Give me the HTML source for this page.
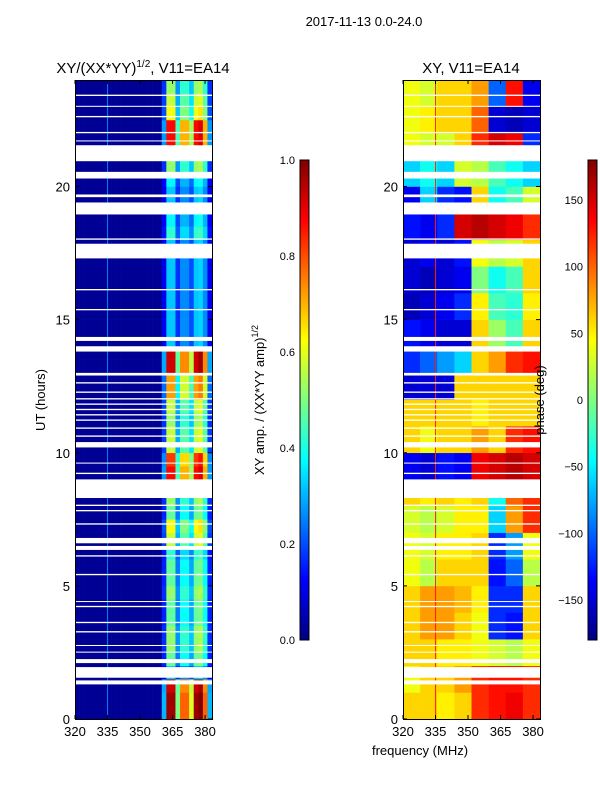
<!DOCTYPE html>
<html><head><meta charset="utf-8"><style>
body{margin:0;background:#fff;font-family:"Liberation Sans",sans-serif;}
svg text{font-family:"Liberation Sans",sans-serif;}
</style></head><body>
<svg id="fig" width="600" height="800" xmlns="http://www.w3.org/2000/svg">
<defs><linearGradient id="jetg" x1="0" y1="1" x2="0" y2="0">
<stop offset="0" stop-color="#000080"/><stop offset="0.125" stop-color="#0000ff"/><stop offset="0.375" stop-color="#00ffff"/><stop offset="0.625" stop-color="#ffff00"/><stop offset="0.875" stop-color="#ff0000"/><stop offset="1" stop-color="#800000"/></linearGradient></defs>
<rect width="600" height="800" fill="#fff"/>
<text x="364" y="26" font-size="13" text-anchor="middle">2017-11-13 0.0-24.0</text>
<text x="143" y="73" font-size="15" text-anchor="middle">XY/(XX*YY)<tspan font-size="10" dy="-6">1/2</tspan><tspan dy="6">, V11=EA14</tspan></text>
<text x="471" y="73" font-size="15" text-anchor="middle">XY, V11=EA14</text>
<g id="left"></g>
<g id="right"></g>
<g id="axes"></g>
<text transform="translate(45,400) rotate(-90)" font-size="13" text-anchor="middle">UT (hours)</text>
<text x="420" y="755" font-size="13" text-anchor="middle">frequency (MHz)</text>
<rect x="300" y="160" width="9" height="480" fill="url(#jetg)" stroke="#000" stroke-width="1"/>
<rect x="588" y="160" width="9" height="480" fill="url(#jetg)" stroke="#000" stroke-width="1"/>
<text transform="translate(264,400) rotate(-90)" font-size="13" text-anchor="middle">XY amp. / (XX*YY amp)<tspan font-size="9" dy="-6">1/2</tspan></text>
<text transform="translate(544,400) rotate(-90)" font-size="13" text-anchor="middle">phase (deg)</text>
</svg>
<script>
const NS="http://www.w3.org/2000/svg";
// ---- data ----
const ampColProfile=[0,0,0,0,0,0,0,0,0,0,0,0,0,0,0,0,0,0,0,0.3,1.0,1.0,0.5,0.8,0.8,0.6,1.0,1.05,0.8,0.3];
const ampRowLevel=[0.95,0.95,0.9,0.3,0.45,0.5,0.5,0.45,0.45,0.5,0.45,0.45,0.4,0.55,0.6,0.45,0.5,0.5,0.85,0.8,0.55,0.55,0.5,0.55,0.7,0.7,0.9,0.9,0.3,0.3,0.3,0.3,0.3,0.3,0.3,0.3,0.4,0.35,0.3,0.3,0.35,0.5,0.6,0.85,0.85,0.6,0.55,0.5];
const phaseRows=[
[60,60,50,60,120,130,140,120],[40,60,60,80,120,130,130,120],[60,60,50,50,40,30,20,40],[60,80,80,60,40,-120,-130,60],
[60,80,80,70,50,-120,-120,60],[40,20,60,60,60,-130,-100,20],[40,30,50,50,60,-120,-80,40],[30,20,30,50,50,-60,80,120],
[60,50,60,50,60,-40,100,120],[-140,-150,-130,-140,140,150,160,150],[60,40,60,60,80,60,120,130],[60,60,60,60,50,60,60,60],
[-150,-150,-150,60,60,60,60,60],[-120,-100,-80,-60,60,80,120,130],[-130,-140,-150,-150,60,10,-20,60],[-160,-150,-140,-120,50,-20,-30,50],
[-150,-160,-150,-140,0,-40,-20,60],[-150,-140,-150,-130,40,20,30,60],[-130,-140,-120,150,160,150,140,120],[-140,-60,-120,-130,60,-40,-20,30],
[-60,-40,-60,30,20,-20,-40,-60],[40,30,30,60,120,150,140,-120],[40,50,60,60,100,-150,-160,-150],[40,30,60,60,80,-100,130,-140]];
const gaps=[[1.3,1.45],[1.55,1.95],[2.1,2.25],[2.5,2.53],[2.75,2.78],[3.25,3.3],[3.6,3.65],[4.2,4.25],[4.4,4.43],[5.4,5.45],[6.1,6.15],[6.35,6.5],[6.6,6.8],[7.3,7.35],[7.8,7.85],[8.0,8.05],[8.3,9.0],[9.2,9.25],[9.6,9.63],[10.2,10.4],[10.6,10.65],[10.9,10.95],[11.2,11.25],[11.4,11.45],[11.6,11.65],[11.8,11.85],[12.0,12.05],[12.25,12.3],[12.6,12.65],[12.9,13.0],[13.8,14.0],[14.2,14.35],[15.35,15.4],[16.1,16.15],[17.3,17.85],[18.0,18.05],[18.95,19.4],[19.6,19.7],[20.3,20.55],[20.95,21.55],[21.7,21.73],[22.0,22.05],[22.6,22.65],[23.0,23.03],[23.4,23.45]];
const xTicks=[320,335,350,365,380];
const yTicks=[0,5,10,15,20];
const ampTicks=[0.0,0.2,0.4,0.6,0.8,1.0];
const phaseTicks=[-150,-100,-50,0,50,100,150];
// ---- scales ----
const F0=320,F1=383.2,TOP=80,BOT=719;
const yS=h=>BOT-(h/24)*(BOT-TOP);
const xL=f=>75+(f-F0)/(F1-F0)*137;
const xR=f=>403+(f-F0)/(F1-F0)*137;
function jet(v){v=Math.max(0,Math.min(1,v));const c=t=>Math.round(255*Math.max(0,Math.min(1,1.5-Math.abs(4*v-t))));return `rgb(${c(3)},${c(2)},${c(1)})`;}
function R(g,x,y,w,h,fill){const r=document.createElementNS(NS,'rect');r.setAttribute('x',x);r.setAttribute('y',y);r.setAttribute('width',w);r.setAttribute('height',h);r.setAttribute('fill',fill);


g.appendChild(r);return r;}
const gl=document.getElementById('left'),gr=document.getElementById('right');
const nc=ampColProfile.length,fw=(F1-F0)/nc;
ampRowLevel.forEach((lv,i)=>{const y0=yS((i+1)*0.5),y1=yS(i*0.5);
 ampColProfile.forEach((p,j)=>{const a=xL(F0+j*fw),b=xL(F0+(j+1)*fw);R(gl,a,y0,b-a+0.3,y1-y0+0.3,jet(0.02+lv*p));});});
R(gl,xL(334.8),TOP,1,BOT-TOP,jet(0.25));
const pw=(F1-F0)/8;
phaseRows.forEach((row,i)=>{const y0=yS(i+1),y1=yS(i);
 row.forEach((p,j)=>{const a=xR(F0+j*pw),b=xR(F0+(j+1)*pw);R(gr,a,y0,b-a+0.3,y1-y0+0.3,jet((p+180)/360));});});
R(gr,xR(334.8),TOP,1,BOT-TOP,'#ff2000');
[gl,gr].forEach((g,k)=>{const xf=k?xR:xL;gaps.forEach(([a,b])=>{R(g,xf(F0),yS(b),137,Math.max(1,yS(a)-yS(b)),'#fff');});});
// ---- axes ----
const ga=document.getElementById('axes');
function L(x1,y1,x2,y2,name){const l=document.createElementNS(NS,'line');l.setAttribute('x1',x1);l.setAttribute('y1',y1);l.setAttribute('x2',x2);l.setAttribute('y2',y2);l.setAttribute('stroke','#000');l.setAttribute('stroke-width','1');


ga.appendChild(l);}
function T(x,y,s,anchor,name){const t=document.createElementNS(NS,'text');t.setAttribute('x',x);t.setAttribute('y',y);t.setAttribute('font-size','13');t.setAttribute('text-anchor',anchor);t.textContent=s;


ga.appendChild(t);return t;}
[75,403].forEach((x0,k)=>{const xf=k?xR:xL;
 const fr=document.createElementNS(NS,'rect');fr.setAttribute('x',x0+0.5);fr.setAttribute('y',TOP+0.5);fr.setAttribute('width',137);fr.setAttribute('height',BOT-TOP);fr.setAttribute('fill','none');fr.setAttribute('stroke','#000');
 
 
 ga.appendChild(fr);
 xTicks.forEach(f=>{const x=xf(f);L(x,BOT,x,BOT-4,'x-tick');L(x,TOP,x,TOP+4,'x-tick');T(x,BOT+17,String(f),'middle','x-tick-label');});
 yTicks.forEach(h=>{const y=yS(h);L(x0,y,x0+4,y,'y-tick');L(x0+137,y,x0+133,y,'y-tick');T(x0-5,y+5,String(h),'end','y-tick-label');});
});
ampTicks.forEach(v=>{const y=640-v*480;L(300,y,304,y,'amp-tick');L(309,y,305,y,'amp-tick');const t=T(295,y+4,v.toFixed(1),'end','amp-tick-label');t.setAttribute('font-size','11');});
phaseTicks.forEach(v=>{const y=400-v/180*240;L(588,y,592,y,'phase-tick');L(597,y,593,y,'phase-tick');const t=T(583,y+4,(v<0?'\u2212':'')+Math.abs(v),'end','phase-tick-label');t.setAttribute('font-size','11');});
</script>
</body></html>
